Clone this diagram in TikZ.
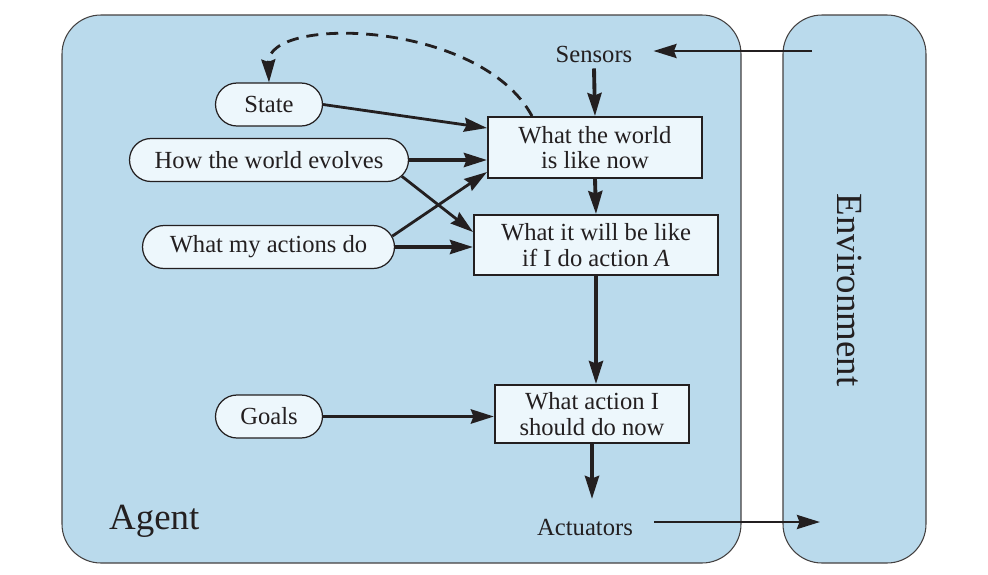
\documentclass[tikz,border=0pt]{standalone}
\usepackage{fontspec}
\setmainfont{Liberation Serif}
\usetikzlibrary{arrows.meta, positioning, shapes.misc}
\definecolor{agentblue}{RGB}{186,218,236}
\definecolor{paleblue}{RGB}{237,247,252}
\definecolor{ink}{RGB}{35,31,32}

\begin{document}
\begin{tikzpicture}[
    font=\fontsize{14}{14.5}\selectfont, text=ink,
    panel/.style={draw=ink!85, fill=agentblue, rounded corners=0.78cm, line width=0.6pt},
    block/.style={draw=ink, fill=paleblue, line width=1.1pt, align=center, inner sep=2pt},
    rule/.style={rounded rectangle, draw=ink, fill=paleblue, line width=0.7pt,
        minimum height=0.86cm, inner sep=2pt},
    flow/.style={draw=ink, line width=1.6pt, -{Stealth[length=4.6mm, width=2.8mm, inset=0.5mm]}},
    heavy/.style={flow, line width=2.2pt},
    memory/.style={flow, dash pattern=on 2.4mm off 1.6mm},
    boxlabel/.style={font=\fontsize{21}{24}\selectfont}
]
    \useasboundingbox (0,0) rectangle (19.76,-11.48);

    % the two panels
    \node[panel, minimum width=13.58cm, minimum height=10.96cm] (agent) at (8.03,-5.78) {};
    \node[panel, minimum width=2.86cm, minimum height=10.96cm] (environment) at (17.09,-5.78) {};
    \node[boxlabel, anchor=base west] (agentlabel) at (2.06,-10.58) {Agent};
    \node[boxlabel, rotate=-90] (envlabel) at (17.0,-5.8) {Environment};

    \node (sensors) at (11.88,-1.08) {Sensors};
    \node (actuators) at (11.7,-10.54) {Actuators};

    \node[block, minimum width=4.28cm, minimum height=1.22cm] (world) at (11.9,-2.95)
        {What the world\\is like now};
    \node[block, minimum width=4.88cm, minimum height=1.2cm] (will) at (11.92,-4.9)
        {What it will be like\\if I do action \textit{A}};
    \node[block, minimum width=3.88cm, minimum height=1.16cm] (action) at (11.84,-8.28)
        {What action I\\should do now};

    \node[rule, minimum width=2.28cm] (state) at (5.38,-2.09) {State};
    \node[rule, minimum width=5.72cm] (evolves) at (5.38,-3.2) {How the world evolves};
    \node[rule, minimum width=5.18cm] (actions) at (5.37,-4.94) {What my actions do};
    \node[rule, minimum width=2.28cm] (goals) at (5.38,-8.33) {Goals};

    \coordinate (sensin) at (16.24,-1.02);
    \coordinate (actout) at (16.4,-10.44);

    \draw[flow, shorten >=3mm] (sensin) -- (sensors.east |- sensin);
    \draw[heavy] (sensors.south) -- (world.north);
    \draw[heavy] (world.south) -- (will.north);
    \draw[heavy] (will.south) -- (will.south |- action.north);
    \draw[heavy] (action.south) -- ++(0,-1.1);
    \draw[flow, shorten <=3mm] (actuators.east |- actout) -- (actout);

    \draw[flow] (state.east) -- ([yshift=0.39cm]world.west);
    \draw[heavy] (evolves.east) -- (evolves.east -| world.west);
    \draw[flow] (evolves.-7) -- ([yshift=0.26cm]will.west);
    \draw[flow] (actions.5) -- ([yshift=-0.49cm]world.west);
    \draw[heavy] (actions.east) -- (actions.east -| will.west);
    \draw[heavy] (goals.east) -- (goals.east -| action.west);

    \draw[memory] ([xshift=-1.26cm]world.north) .. controls (9.6,-0.4) and (5.34,-0.3) .. (state.north);
\end{tikzpicture}
\end{document}
